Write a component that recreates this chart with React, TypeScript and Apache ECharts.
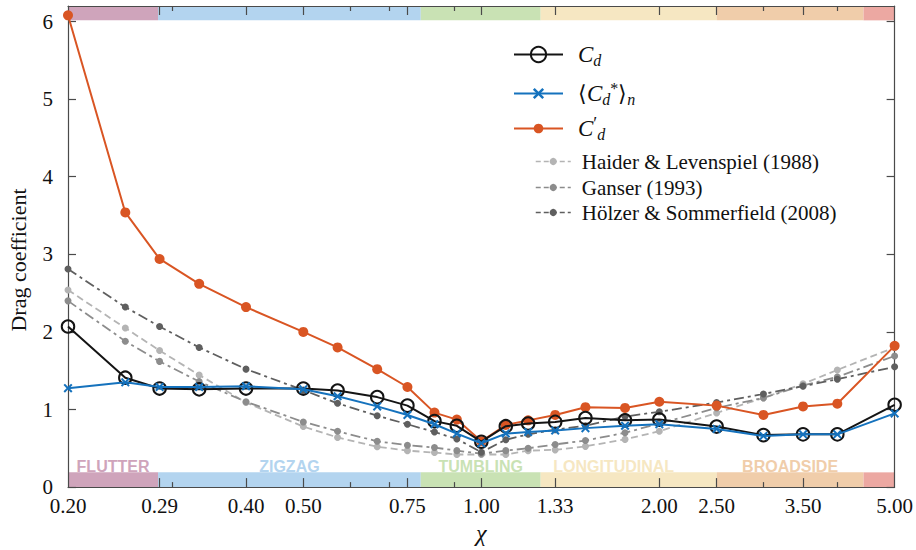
import React, { useEffect, useRef } from "react";
import * as echarts from "echarts";

// aspect ratio chi at which each point was measured
const chiValues = [0.2, 0.25, 0.2857, 0.3333, 0.4, 0.5, 0.5714, 0.6667, 0.75, 0.8333, 0.9091, 1.0, 1.1, 1.2, 1.3333, 1.5, 1.75, 2.0, 2.5, 3.0, 3.5, 4.0, 5.0];

const cdValues = [2.07, 1.41, 1.27, 1.26, 1.27, 1.27, 1.245, 1.16, 1.05, 0.85, 0.79, 0.585, 0.785, 0.82, 0.84, 0.89, 0.86, 0.87, 0.78, 0.67, 0.68, 0.68, 1.06];
const cdStarValues = [1.275, 1.35, 1.29, 1.29, 1.3, 1.26, 1.17, 1.04, 0.93, 0.81, 0.69, 0.565, 0.69, 0.71, 0.73, 0.76, 0.79, 0.81, 0.75, 0.66, 0.68, 0.68, 0.95];
const cdPrimeValues = [6.08, 3.54, 2.94, 2.62, 2.32, 2.0, 1.8, 1.52, 1.29, 0.96, 0.87, 0.59, 0.8, 0.86, 0.93, 1.03, 1.02, 1.1, 1.05, 0.93, 1.04, 1.075, 1.82];
const haiderValues = [2.54, 2.05, 1.76, 1.445, 1.09, 0.78, 0.64, 0.52, 0.47, 0.445, 0.42, 0.42, 0.42, 0.47, 0.48, 0.525, 0.615, 0.72, 0.955, 1.15, 1.33, 1.51, 1.8];
const ganserValues = [2.4, 1.88, 1.62, 1.36, 1.1, 0.84, 0.72, 0.59, 0.54, 0.51, 0.47, 0.43, 0.47, 0.5, 0.55, 0.6, 0.7, 0.82, 1.02, 1.15, 1.31, 1.42, 1.69];
const holzerValues = [2.81, 2.32, 2.07, 1.8, 1.52, 1.25, 1.08, 0.92, 0.81, 0.71, 0.62, 0.45, 0.61, 0.68, 0.74, 0.79, 0.91, 0.97, 1.09, 1.2, 1.3, 1.39, 1.55];

const xLabelValues = [0.2, 0.2857, 0.4, 0.5, 0.75, 1.0, 1.3333, 2.0, 2.5, 3.5, 5.0];
const xLabelTexts = ["0.20", "0.29", "0.40", "0.50", "0.75", "1.00", "1.33", "2.00", "2.50", "3.50", "5.00"];
const xMajorTicks = [0.2857, 0.4, 0.5, 0.75, 1.0, 1.3333, 2.0, 2.5, 3.5];
const xMinorTicks = [0.3, 0.6, 0.7, 0.9, 3.0, 4.0];
const yTicks = [0, 1, 2, 3, 4, 5, 6];

const regimeNames = ["FLUTTER", "ZIGZAG", "TUMBLING", "LONGITUDINAL", "BROADSIDE", ""];
const regimeStart = [0.2, 0.284, 0.79, 1.26, 2.5, 4.43];
const regimeEnd = [0.284, 0.79, 1.26, 2.5, 4.43, 5.0];
const regimeColors = ["#cfa4bb", "#b3d4ef", "#c9e2b4", "#f6e7c2", "#f0cdaa", "#eca8a2"];

const seriesNames = ["Cd", "CdStar", "CdPrime", "Haider & Levenspiel (1988)", "Ganser (1993)", "Hölzer & Sommerfield (2008)"];

const SERIF = "Liberation Serif, Times New Roman, serif";
const COND = "Liberation Sans, Arial, sans-serif";
const INK = "#111111";
const AXIS = "#4a4a4a";
const ORANGE = "#d95523";
const BLUE = "#1572bd";
const BLACK = "#141414";
const G1 = "#b4b4b4";
const G2 = "#8c8c8c";
const G3 = "#5f5f5f";

const crossPath = "path://M0,1.6L1.6,0L5,3.4L8.4,0L10,1.6L6.6,5L10,8.4L8.4,10L5,6.6L1.6,10L0,8.4L3.4,5Z";

const L = (v: number) => Math.log(v);

export default function App() {
  const ref = useRef<HTMLDivElement>(null);
  useEffect(() => {
    if (!ref.current) return;
    const chart = echarts.init(ref.current, undefined, { renderer: "svg" });
    const xMin = L(0.2);
    const xMax = L(5);
    const pts = (vals: number[]) => vals.map((v, i) => [L(chiValues[i]), v]);

    const labelShift: Record<string, number> = { LONGITUDINAL: -15 };
    const bottomAreas = regimeNames.map((nm, i) => [
      {
        xAxis: L(regimeStart[i]),
        yAxis: 0,
        itemStyle: { color: regimeColors[i], opacity: 1, borderWidth: 0 },
        label: {
          show: nm !== "",
          formatter: nm,
          position: "top",
          distance: 0,
          offset: [labelShift[nm] || 0, 2],
          color: regimeColors[i],
          fontFamily: COND,
          fontWeight: "bold",
          fontSize: 16,
        },
      },
      { xAxis: L(regimeEnd[i]), yAxis: 0.19 },
    ]);
    const topAreas = regimeNames.map((nm, i) => [
      {
        xAxis: L(regimeStart[i]),
        yAxis: 6.015,
        itemStyle: { color: regimeColors[i], opacity: 1, borderWidth: 0 },
        label: { show: false },
      },
      { xAxis: L(regimeEnd[i]), yAxis: 6.2 },
    ]);

    const rich = {
      ci: { fontFamily: SERIF, fontStyle: "italic", fontSize: 23, color: INK, padding: [0, 0, 0, 10] },
      sub: { fontFamily: SERIF, fontStyle: "italic", fontSize: 16, color: INK, padding: [11, 0, 0, 0] },
      sup: { fontFamily: SERIF, fontSize: 16, color: INK, padding: [0, 0, 11, 0] },
      supi: { fontFamily: SERIF, fontSize: 18, color: INK, padding: [0, 0, 9, 0] },
      angl: { fontFamily: SERIF, fontSize: 22, color: INK, padding: [0, 0, 0, 10] },
      ang: { fontFamily: SERIF, fontSize: 22, color: INK },
      ci2: { fontFamily: SERIF, fontStyle: "italic", fontSize: 23, color: INK },
      gt: { fontFamily: SERIF, fontSize: 21, color: INK, padding: [0, 0, 0, 6] },
    };
    const legendText: Record<string, string> = {
      Cd: "{ci|C}{sub|d}",
      CdStar: "{angl|⟨}{ci2|C}{sub|d}{sup|*}{ang|⟩}{sub|n}",
      CdPrime: "{ci|C}{supi|′}{sub|d}",
      "Haider & Levenspiel (1988)": "{gt|Haider & Levenspiel (1988)}",
      "Ganser (1993)": "{gt|Ganser (1993)}",
      "Hölzer & Sommerfield (2008)": "{gt|Hölzer & Sommerfield (2008)}",
    };
    const legendLayout = [
      { left: 513, top: 43, itemWidth: 49, itemHeight: 19, line: { color: BLACK, width: 2, type: "solid" } },
      { left: 513, top: 80, itemWidth: 49, itemHeight: 14, line: { color: BLUE, width: 2, type: "solid" } },
      { left: 513, top: 115, itemWidth: 49, itemHeight: 12, line: { color: ORANGE, width: 2, type: "solid" } },
      { left: 535, top: 151, itemWidth: 35, itemHeight: 9, line: { color: G1, width: 1.5, type: [5, 3] } },
      { left: 535, top: 177, itemWidth: 35, itemHeight: 9, line: { color: G2, width: 1.5, type: [5, 3] } },
      { left: 535, top: 202, itemWidth: 35, itemHeight: 9, line: { color: G3, width: 1.5, type: [5, 3] } },
    ];
    const legends = legendLayout.map((lg, i) => ({
      data: [seriesNames[i]],
      orient: "vertical",
      left: lg.left,
      top: lg.top,
      padding: 0,
      itemWidth: lg.itemWidth,
      itemHeight: lg.itemHeight,
      selectedMode: false,
      lineStyle: lg.line,
      formatter: (name: string) => legendText[name],
      textStyle: { rich },
    }));

    const xAxisBase = {
      type: "value",
      min: xMin,
      max: xMax,
      z: 1,
      splitLine: { show: false },
    };
    const labelFor = (v: number) => {
      for (let i = 0; i < xLabelValues.length; i++) {
        if (Math.abs(L(xLabelValues[i]) - v) < 1e-6) return xLabelTexts[i];
      }
      return "";
    };

    const option: any = {
      animation: false,
      backgroundColor: "#ffffff",
      textStyle: { fontFamily: SERIF },
      grid: { left: 68, right: 18.5, top: 6, bottom: 58.3, containLabel: false },
      legend: legends,
      xAxis: [
        {
          ...xAxisBase,
          position: "bottom",
          axisLine: { show: true, onZero: false, lineStyle: { color: AXIS, width: 1.2 } },
          axisTick: { show: true, inside: true, length: 9, customValues: xMajorTicks.map(L), lineStyle: { color: AXIS, width: 1.2 } },
          axisLabel: {
            show: true,
            customValues: xLabelValues.map(L),
            formatter: labelFor,
            margin: 8,
            fontSize: 21,
            fontFamily: SERIF,
            color: INK,
          },
          name: "χ",
          nameLocation: "middle",
          nameGap: 27,
          nameTextStyle: { fontSize: 24, fontStyle: "italic", fontFamily: SERIF, color: INK },
        },
        {
          ...xAxisBase,
          position: "top",
          axisLine: { show: true, onZero: false, lineStyle: { color: AXIS, width: 1.2 } },
          axisTick: { show: true, inside: true, length: 9, customValues: xMajorTicks.map(L), lineStyle: { color: AXIS, width: 1.2 } },
          axisLabel: { show: false },
        },
        {
          ...xAxisBase,
          position: "top",
          axisLine: { show: false, onZero: false },
          axisTick: { show: true, inside: true, length: 5, customValues: xMinorTicks.map(L), lineStyle: { color: AXIS, width: 1.2 } },
          axisLabel: { show: false },
        },
        {
          ...xAxisBase,
          position: "bottom",
          axisLine: { show: false, onZero: false },
          axisTick: { show: true, inside: true, length: 5, customValues: xMinorTicks.map(L), lineStyle: { color: AXIS, width: 1.2 } },
          axisLabel: { show: false },
        },
      ],
      yAxis: [
        {
          type: "value",
          min: 0,
          max: 6.2,
          interval: 1,
          position: "left",
          z: 1,
          splitLine: { show: false },
          axisLine: { show: true, onZero: false, lineStyle: { color: AXIS, width: 1.2 } },
          axisTick: { show: true, inside: true, length: 8, customValues: yTicks, lineStyle: { color: AXIS, width: 1.2 } },
          axisLabel: { show: true, customValues: yTicks, margin: 15, fontSize: 21, fontFamily: SERIF, color: INK },
        },
        {
          type: "value",
          min: 0,
          max: 6.2,
          interval: 1,
          position: "right",
          z: 1,
          splitLine: { show: false },
          axisLine: { show: true, onZero: false, lineStyle: { color: AXIS, width: 1.2 } },
          axisTick: { show: true, inside: true, length: 8, customValues: yTicks, lineStyle: { color: AXIS, width: 1.2 } },
          axisLabel: { show: false },
        },
      ],
      graphic: [
        {
          type: "text",
          x: 18,
          y: 260,
          rotation: Math.PI / 2,
          style: {
            text: "Drag coefficient",
            fontSize: 22,
            fontFamily: SERIF,
            fill: INK,
            align: "center",
            verticalAlign: "middle",
            textAlign: "center",
            textVerticalAlign: "middle",
          },
        },
      ],
      series: [
        {
          name: "regimes",
          type: "line",
          data: [],
          z: 0,
          silent: true,
          markArea: { silent: true, data: [...bottomAreas, ...topAreas] },
        },
        {
          name: seriesNames[3],
          type: "line",
          data: pts(haiderValues),
          z: 2,
          symbol: "circle",
          symbolSize: 7,
          itemStyle: { color: G1 },
          lineStyle: { color: G1, width: 1.8, type: [7, 4] },
        },
        {
          name: seriesNames[4],
          type: "line",
          data: pts(ganserValues),
          z: 2,
          symbol: "circle",
          symbolSize: 7,
          itemStyle: { color: G2 },
          lineStyle: { color: G2, width: 1.8, type: [10, 4, 3, 4] },
        },
        {
          name: seriesNames[5],
          type: "line",
          data: pts(holzerValues),
          z: 2,
          symbol: "circle",
          symbolSize: 7,
          itemStyle: { color: G3 },
          lineStyle: { color: G3, width: 1.8, type: [10, 4, 3, 4] },
        },
        {
          name: seriesNames[2],
          type: "line",
          data: pts(cdPrimeValues),
          z: 3,
          symbol: "circle",
          symbolSize: 10,
          itemStyle: { color: ORANGE },
          lineStyle: { color: ORANGE, width: 2 },
        },
        {
          name: seriesNames[0],
          type: "line",
          data: pts(cdValues),
          z: 4,
          symbol: "circle",
          symbolSize: 12.5,
          itemStyle: { color: "rgba(255,255,255,0)", borderColor: BLACK, borderWidth: 2 },
          lineStyle: { color: BLACK, width: 2 },
        },
        {
          name: seriesNames[1],
          type: "line",
          data: pts(cdStarValues),
          z: 5,
          symbol: crossPath,
          symbolSize: 9,
          itemStyle: { color: BLUE },
          lineStyle: { color: BLUE, width: 2 },
        },
      ],
    };
    chart.setOption(option);
    return () => chart.dispose();
  }, []);
  return <div ref={ref} style={{ position: "absolute", left: 0, top: 0, width: 916, height: 550 }} />;
}
